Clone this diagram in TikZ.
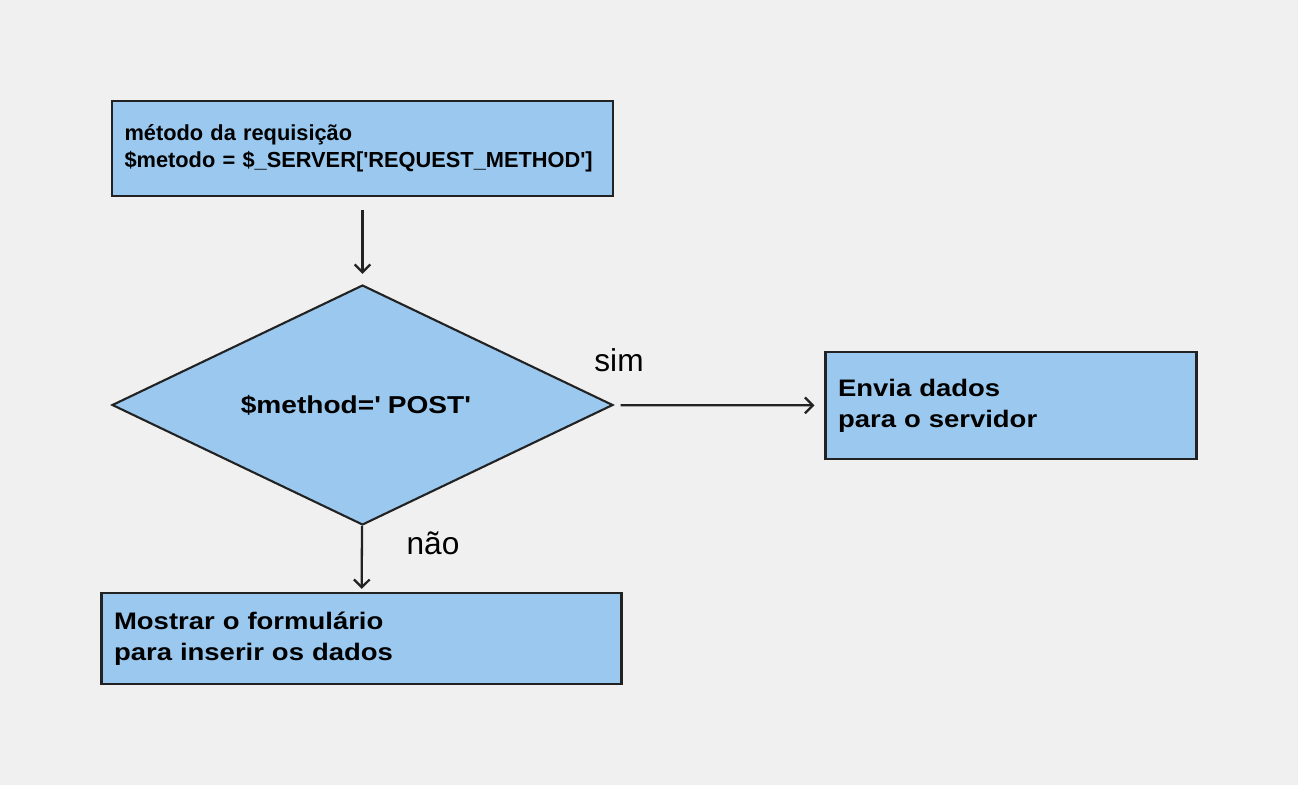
\documentclass[tikz,border=0pt]{standalone}
\usepackage{fontspec}
\setmainfont{Liberation Sans}
\newfontfamily\widefont[FakeStretch=1.15]{Liberation Sans}
\usetikzlibrary{arrows.meta, positioning, shapes.geometric}

\definecolor{boxblue}{HTML}{9AC8EE}
\definecolor{pagegray}{HTML}{F0F0F0}
\definecolor{inkgray}{HTML}{222222}

\begin{document}
\begin{tikzpicture}[
   x = 0.02cm, y = -0.02cm,
     box/.style = {rectangle, draw=inkgray, fill=boxblue,
                   line width=1.2pt, align=left,
                   inner xsep=0.25cm, inner ysep=0pt},
 bigtext/.style = {font=\widefont\bfseries\fontsize{13.6}{17.6}\selectfont},
decision/.style = {diamond, draw=inkgray, fill=boxblue,
                   line width=1.2pt, inner sep=0pt, aspect=2.09,
                   minimum width=10.02cm, minimum height=4.8cm},
    link/.style = {draw=inkgray, line width=1.3pt,
                   -{Straight Barb[length=4.5pt,width=9pt]}},
  answer/.style = {font=\fontsize{18}{21}\selectfont}
                    ]
  \fill [pagegray] (0,0) rectangle (1298,785);
  \useasboundingbox (0,0) rectangle (1298,785);
% boxes
  \node (req) [box, text width=9.52cm, minimum height=1.9cm,
               font=\bfseries\fontsize{12.4}{15.3}\selectfont]
        at (362.5,148.5)
        {método da requisição\\
         \$metodo = \$\_SERVER[\textquotesingle REQUEST\_METHOD\textquotesingle]};
  \node (dec) [decision, font=\widefont\bfseries\fontsize{13.9}{17.6}\selectfont]
        at (362.5,405)
        {\$method=\textquotesingle{} POST\textquotesingle\hspace*{0.28cm}};
  \node (send) [box, bigtext, text width=6.92cm, minimum height=2.14cm]
        at (1011,405.5) {Envia dados\\ para o servidor};
  \node (form) [box, bigtext, text width=9.9cm, minimum height=1.82cm]
        at (361.5,638.5) {Mostrar o formulário\\ para inserir os dados};
% labels
  \node (yes) [answer] at (619,360) {sim};
  \node (no)  [answer] at (433,543) {não};
% connectors
  \draw [link, shorten <=0.26cm, shorten >=0.2cm] (req) -- (dec);
  \draw [link, shorten <=0.14cm, shorten >=0.2cm] (dec) -- (send);
  \draw [link, shorten >=0.06cm] (dec) -- (form);
\end{tikzpicture}
\end{document}
